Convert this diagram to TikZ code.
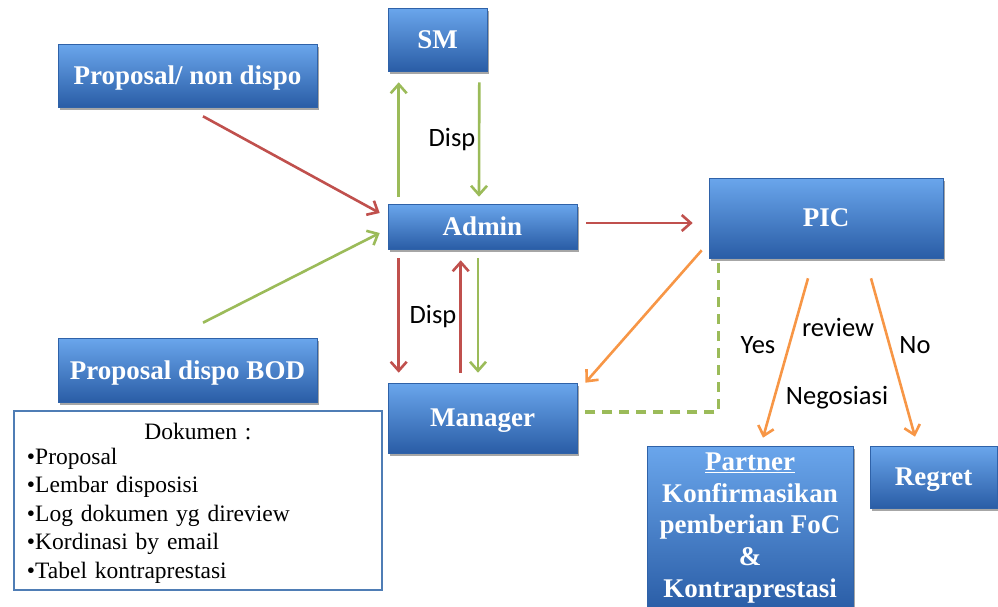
\documentclass[tikz,border=0pt]{standalone}
\usepackage{fontspec}
\setmainfont{Liberation Serif}
\newfontfamily\labfont{Carlito}
\usetikzlibrary{arrows.meta,calc,shadows}
\definecolor{boxtop}{HTML}{6AA6EC}
\definecolor{boxmid}{HTML}{3D7DCF}
\definecolor{boxbot}{HTML}{2A5DA6}
\definecolor{boxedge}{HTML}{2F62A8}
\definecolor{arrred}{HTML}{C0504D}
\definecolor{arrgreen}{HTML}{9BBB59}
\definecolor{arrorange}{HTML}{F79646}
\definecolor{docedge}{HTML}{4F7DB5}
\tikzset{
  box/.style={draw=boxedge, line width=0.6pt, top color=boxtop, middle color=boxmid,
    bottom color=boxbot, text=white, align=center, inner sep=0pt,
    font=\fontsize{27}{31.7}\selectfont\bfseries,
    drop shadow={shadow xshift=1.5pt, shadow yshift=-2.5pt, opacity=0.35, fill=black}},
  onebox/.style={box, text depth=0pt},
  docbox/.style={draw=docedge, line width=2pt, fill=white, text=black,
    font=\fontsize{23.5}{28.5}\selectfont, align=left, text width=342pt,
    inner xsep=13pt, inner ysep=0pt, minimum height=179pt},
  conn/.style={line width=2.6pt, -{Straight Barb[length=9pt,width=16pt,line width=2.6pt]}},
  redarr/.style={conn, draw=arrred},
  greenarr/.style={conn, draw=arrgreen},
  orangearr/.style={conn, draw=arrorange},
  lab/.style={font=\labfont\fontsize{26.5}{30}\selectfont, text=black, inner sep=0pt},
}
\begin{document}
\begin{tikzpicture}[x=1pt,y=-1pt]
\useasboundingbox (0,0) rectangle (998,606);
% boxes
\node[onebox, minimum width=99pt, minimum height=63pt] (sm) at (437.5,39.5) {SM};
\node[onebox, minimum width=259pt, minimum height=63pt] (pnd) at (187.5,75.5) {Proposal/ non dispo};
\node[onebox, minimum width=189pt, minimum height=45pt] (admin) at (482.5,226.5) {Admin};
\node[onebox, minimum width=234pt, minimum height=80pt] (pic) at (826,218) {PIC};
\node[onebox, minimum width=259pt, minimum height=64pt] (bod) at (187.5,370) {Proposal dispo BOD};
\node[onebox, minimum width=189pt, minimum height=70pt] (mgr) at (482.5,418) {Manager};
\node[box, minimum width=206pt, minimum height=164pt] (partner) at (750,528)
  {\underline{Partner}\\Konfirmasikan\\pemberian FoC\\\&\\Kontraprestasi};
\node[onebox, minimum width=127pt, minimum height=62pt] (regret) at (933.5,477) {Regret};
\node[docbox] (dok) at (198,500.5)
  {\rule{0pt}{21.2pt}\hfill Dokumen :\hfill\null\\[-3.5pt]
   •Proposal\\
   •Lembar disposisi\\
   •Log dokumen yg direview\\
   •Kordinasi by email\\
   •Tabel kontraprestasi};
% connectors
\draw[redarr] ($(pnd.south)+(15.5,9)$) -- ($(admin.west)+(-8,-13.5)$);
\draw[greenarr] ($(bod.north)+(15.5,-15)$) -- ($(admin.west)+(-8,6.5)$);
\draw[greenarr] ($(admin.north west)+(11,-7)$) -- ($(sm.south west)+(11,11)$);
\draw[greenarr] ($(sm.south east)+(-8,11)$) -- ($(admin.north)+(-3.5,-7)$);
\draw[redarr] ($(admin.east)+(9,-3.5)$) -- ($(pic.west)+(-16,5)$);
\draw[redarr] ($(admin.south west)+(11,9)$) -- ($(mgr.north west)+(11,-10)$);
\draw[redarr] ($(mgr.north west)+(73,-10)$) -- ($(admin.south west)+(73,11)$);
\draw[greenarr] ($(admin.south)+(-4.5,9)$) -- ($(mgr.north)+(-4.5,-10)$);
\draw[orangearr] ($(pic.south west)+(-7,-8)$) -- ($(mgr.north east)+(8,0)$);
\draw[arrgreen, line width=3.5pt, dash pattern=on 10pt off 7pt]
  ($(pic.south west)+(10,5)$) |- ($(mgr.east)+(3,-6)$);
\draw[orangearr] ($(pic.south)+(-18,20)$) -- ($(partner.north)+(13,-8)$);
\draw[orangearr] ($(pic.south)+(45,20)$) -- ($(regret.north)+(-18.5,-9)$);
% labels
\node[lab] (disp1) at (452,140) {Disp};
\node[lab] (disp2) at (433,317) {Disp};
\node[lab] (yes) at (758,345) {Yes};
\node[lab] (review) at (838,327) {review};
\node[lab] (no) at (915,345) {No};
\node[lab] (nego) at (837,398) {Negosiasi};
\end{tikzpicture}
\end{document}
